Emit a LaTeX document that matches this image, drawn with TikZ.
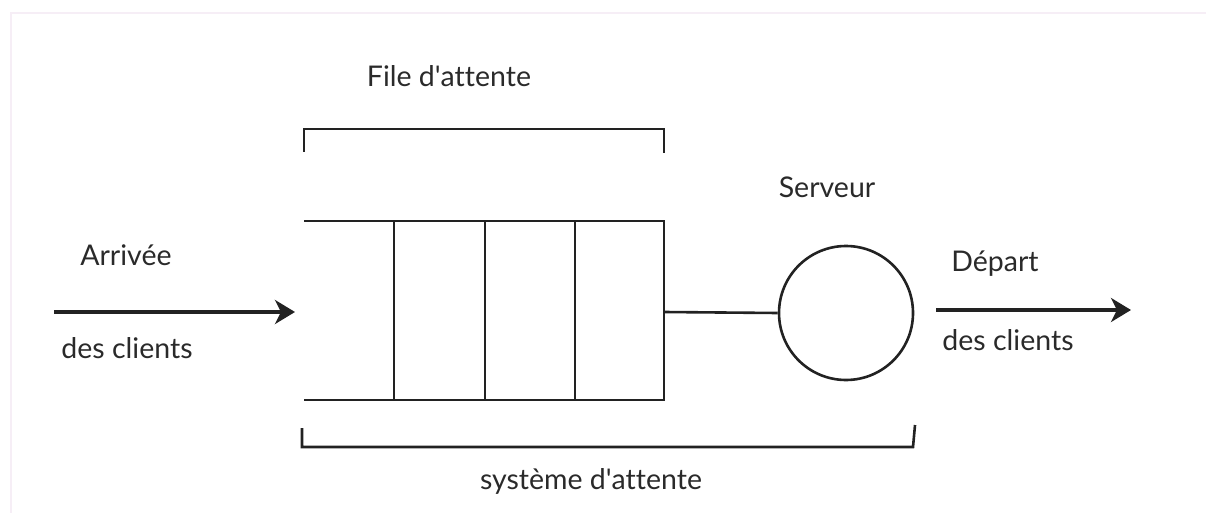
\documentclass[tikz,border=0pt]{standalone}
\usepackage{fontspec}
\setmainfont{Lato}[Ligatures={NoCommon}]
\usetikzlibrary{arrows.meta}
\definecolor{ink}{HTML}{222222}
\definecolor{txt}{HTML}{2A2A2A}
\definecolor{framec}{RGB}{246,238,246}
\newcommand{\apos}{\textquotesingle}
\begin{document}
\begin{tikzpicture}[x=1pt,y=-1pt,
  line/.style={draw=ink,line width=2.6pt},
  flow/.style={draw=ink,line width=3.6pt,-{Stealth[length=20pt,width=24pt,inset=6pt]}},
  lbl/.style={text=txt,font=\fontsize{28.5}{31}\selectfont,anchor=base,inner sep=0pt}]
  \useasboundingbox (0,0) rectangle (1206,513);
  % faint page frame
  \draw[framec,line width=2pt] (11,513) -- (11,13) -- (1206,13);

  % queue body: open on the left, three slots plus the head cell
  \coordinate (qtl) at (304,221);
  \coordinate (qbl) at (304,400);
  \coordinate (qtr) at (664,221);
  \coordinate (qbr) at (664,400);
  \coordinate (qout) at (664,312);
  \draw[line] (qtl) -- (qtr) -- (qbr) -- (qbl);
  \foreach \x in {394,485,575} \draw[line] (\x,221) -- (\x,400);

  % server
  \node[circle,draw=ink,line width=2.6pt,minimum size=134pt,inner sep=0pt] (srv) at (846,313) {};
  \draw[line] (qout) -- (srv.west);

  % arrival and departure flows
  \coordinate (inA) at (54,312);
  \coordinate (inB) at (295,312);
  \coordinate (outA) at (936,310);
  \coordinate (outB) at (1131,310);
  \draw[flow] (inA) -- (inB);
  \draw[flow] (outA) -- (outB);

  % brackets
  \draw[line] (304,152) -- (304,129) -- (664,129) -- (664,153);
  \draw[line] (302,428) -- (302,447) -- (913,447) -- (915,425);

  % labels
  \node[lbl] (file) at (449,87) {File d\apos attente};
  \node[lbl] (serv) at (827,197) {Serveur};
  \node[lbl] (arr) at (126,265) {Arrivée};
  \node[lbl] (dc1) at (127,358) {des clients};
  \node[lbl] (dep) at (995,271) {Départ};
  \node[lbl] (dc2) at (1008,350) {des clients};
  \node[lbl] (sys) at (591,489) {système d\apos attente};
\end{tikzpicture}
\end{document}
